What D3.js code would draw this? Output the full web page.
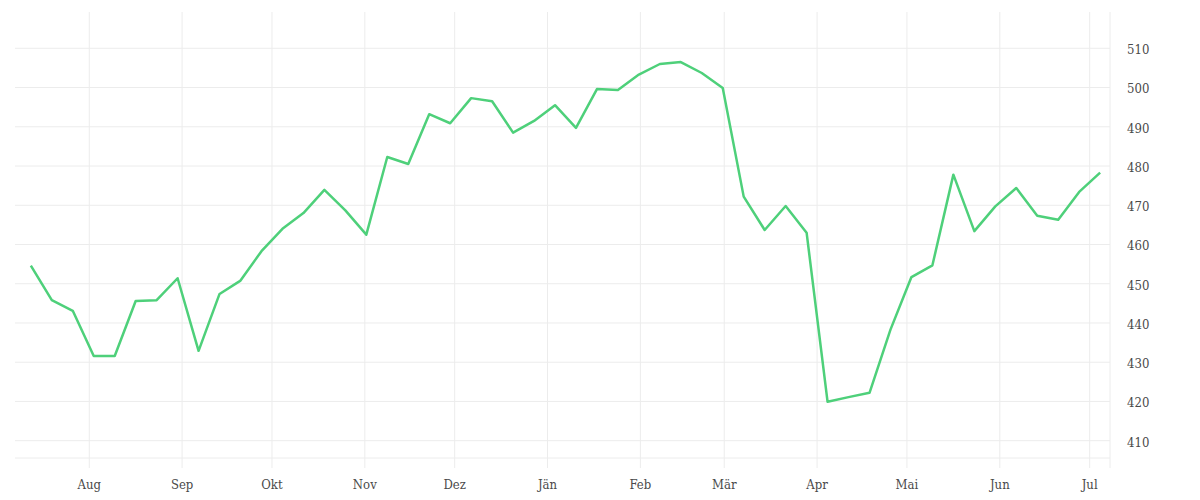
<!DOCTYPE html>
<html>
<head>
<meta charset="utf-8">
<script src="https://cdn.jsdelivr.net/npm/d3@7"></script>
<style>
  body { margin: 0; background: #fff; }
  text { font-family: "DejaVu Serif Condensed", "DejaVu Serif", serif; font-size: 13px; fill: #4a4a4a; }
</style>
</head>
<body>
<div id="chart"></div>
<script>
// weekly values, first week starts 12 Jul 2020
const first_week = new Date(2020, 6, 12, 12);
const values = [
  454.6, 445.8, 443.1, 431.6, 431.6, 445.6, 445.8, 451.4, 432.9, 447.4,
  450.8, 458.3, 464.0, 468.0, 473.9, 468.7, 462.5, 482.3, 480.5, 493.2,
  490.9, 497.3, 496.5, 488.5, 491.5, 495.5, 489.7, 499.6, 499.4, 503.3,
  506.0, 506.5, 503.7, 499.9, 472.2, 463.7, 469.8, 463.0, 419.9, 421.1,
  422.2, 438.3, 451.7, 454.7, 477.8, 463.4, 469.7, 474.4, 467.3, 466.3,
  473.4, 478.3
];
const y_ticks = [410, 420, 430, 440, 450, 460, 470, 480, 490, 500, 510];
const month_names = ["Jän", "Feb", "Mär", "Apr", "Mai", "Jun", "Jul", "Aug", "Sep", "Okt", "Nov", "Dez"];

const width = 1200, height = 500;
const plot_left = 15, plot_right = 1110, plot_top = 12, plot_bottom = 468;

const locale = d3.timeFormatLocale({
  dateTime: "%A, %e. %B %Y, %X", date: "%d.%m.%Y", time: "%H:%M:%S",
  periods: ["AM", "PM"],
  days: ["Sonntag", "Montag", "Dienstag", "Mittwoch", "Donnerstag", "Freitag", "Samstag"],
  shortDays: ["So", "Mo", "Di", "Mi", "Do", "Fr", "Sa"],
  months: ["Jänner", "Februar", "März", "April", "Mai", "Juni", "Juli", "August", "September", "Oktober", "November", "Dezember"],
  shortMonths: month_names
});
const fmt = locale.format("%b");

const data = values.map((v, i) => ({ date: d3.timeDay.offset(first_week, 7 * i), value: v }));

const x = d3.scaleTime()
  .domain([new Date(2020, 6, 7, 5), new Date(2021, 6, 7, 19)])
  .range([plot_left, plot_right]);

const y = d3.scaleLinear()
  .domain([403.04, 519.25])
  .range([plot_bottom, plot_top]);

const svg = d3.select("#chart").append("svg")
  .attr("width", width)
  .attr("height", height);

const months = d3.timeMonth.range(new Date(2020, 7, 1), new Date(2021, 6, 2));

// vertical grid
svg.append("g")
  .selectAll("line")
  .data(months)
  .join("line")
  .attr("x1", d => x(d)).attr("x2", d => x(d))
  .attr("y1", plot_top).attr("y2", plot_bottom)
  .attr("stroke", "#ececec");

// right border
svg.append("line")
  .attr("x1", plot_right).attr("x2", plot_right)
  .attr("y1", plot_top).attr("y2", plot_bottom)
  .attr("stroke", "#ececec");

// horizontal grid
svg.append("g")
  .selectAll("line")
  .data(y_ticks)
  .join("line")
  .attr("x1", plot_left).attr("x2", plot_right)
  .attr("y1", d => y(d)).attr("y2", d => y(d))
  .attr("stroke", "#ececec");

// baseline
svg.append("line")
  .attr("x1", plot_left).attr("x2", plot_right)
  .attr("y1", plot_bottom - 10).attr("y2", plot_bottom - 10)
  .attr("stroke", "#ececec");

// y labels on the right
svg.append("g")
  .selectAll("text")
  .data(y_ticks)
  .join("text")
  .attr("x", plot_right + 17)
  .attr("y", d => y(d))
  .attr("dy", "0.45em")
  .text(d => d);

// month labels
svg.append("g")
  .selectAll("text")
  .data(months)
  .join("text")
  .attr("x", d => x(d))
  .attr("y", 489)
  .attr("text-anchor", "middle")
  .text(d => fmt(d));

const line = d3.line()
  .x(d => x(d.date))
  .y(d => y(d.value));

svg.append("path")
  .datum(data)
  .attr("d", line)
  .attr("fill", "none")
  .attr("stroke", "#4ed07a")
  .attr("stroke-width", 2.5)
  .attr("stroke-linejoin", "round");
</script>
</body>
</html>
